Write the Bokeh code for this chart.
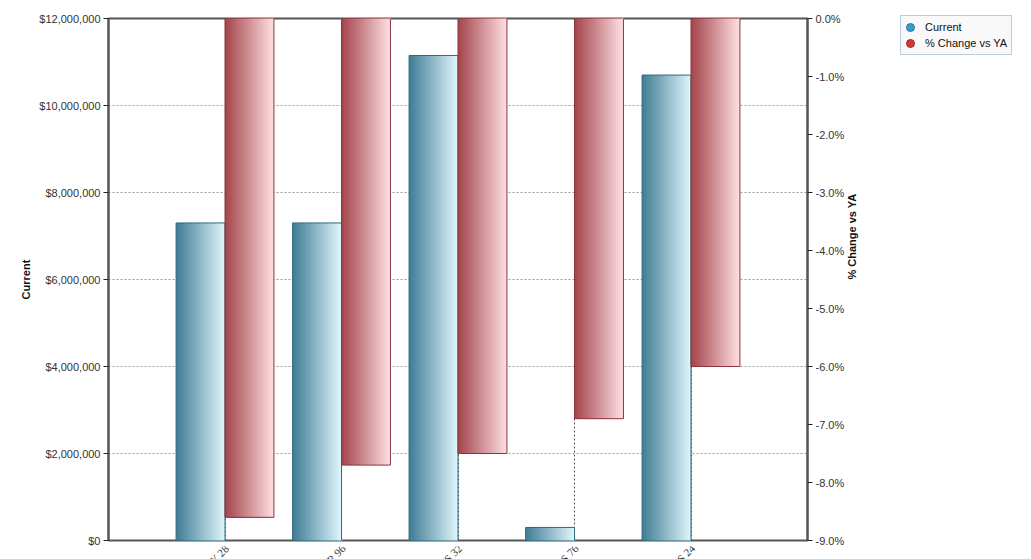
import numpy as np
from bokeh.plotting import figure
from bokeh.layouts import row, column
from bokeh.models import (Range1d, LinearAxis, SingleIntervalTicker, FixedTicker,
                          NumeralTickFormatter, PrintfTickFormatter, ColumnDataSource,
                          LabelSet, Legend, LegendItem)
from bokeh.embed import file_html
from bokeh.resources import INLINE

# ---- data ----
categories = ["CATEGORY 28", "SUPPLIER 96", "PRODUCTS 32", "BRANDS 76", "ITEMS 24"]
current = [7300000, 7300000, 11150000, 300000, 10700000]
pct_change = [-8.6, -7.7, -7.5, -6.9, -6.0]

FONT = "Liberation Sans"
Y_MAX = 12000000
P_MIN = -9.0

fig = figure(width=870, height=546, output_backend="svg", toolbar_location=None,
             x_range=Range1d(0, 6), y_range=Range1d(0, Y_MAX),
             min_border_left=108, min_border_right=63, min_border_top=18, min_border_bottom=6)
fig.extra_y_ranges = {"pct": Range1d(P_MIN, 0)}

fig.outline_line_color = "#555555"
fig.outline_line_width = 2
fig.background_fill_color = "white"
fig.border_fill_color = "white"

xs = np.arange(1, len(categories) + 1)
bar_w = 0.42

def gradient_bars(centers, tops, bottoms, c_dark, c_light, y_range_name="default", n=40):
    c_dark = np.array(c_dark, dtype=float)
    c_light = np.array(c_light, dtype=float)
    sx, sw, st, sb, sc = [], [], [], [], []
    for cx, t, b in zip(centers, tops, bottoms):
        left = cx - bar_w / 2
        right = cx + bar_w / 2
        for i in range(n):
            f = i / (n - 1)
            col = c_dark + (c_light - c_dark) * f
            l_i = left + i * bar_w / n
            sx.append((l_i + right) / 2)
            sw.append(right - l_i)
            st.append(t)
            sb.append(b)
            sc.append("#%02x%02x%02x" % tuple(int(round(v)) for v in col))
    src = ColumnDataSource(dict(x=sx, w=sw, top=st, bottom=sb, color=sc))
    fig.vbar(x="x", top="top", bottom="bottom", width="w", source=src,
             fill_color="color", line_color=None, y_range_name=y_range_name)

blue_x = xs - bar_w / 2
red_x = xs + bar_w / 2

gradient_bars(blue_x, current, [0] * len(current), (66, 126, 150), (222, 244, 250))
fig.vbar(x=blue_x, top=current, bottom=0, width=bar_w, fill_color=None,
         line_color="#2f6a80", line_width=1)

gradient_bars(red_x, [0] * len(pct_change), pct_change, (164, 70, 76), (253, 222, 226), y_range_name="pct")
fig.vbar(x=red_x, top=0, bottom=pct_change, width=bar_w, fill_color=None,
         line_color="#8a343c", line_width=1, y_range_name="pct")

# ---- axes ----
ya = fig.yaxis[0]
ya.ticker = SingleIntervalTicker(interval=2000000)
ya.formatter = NumeralTickFormatter(format="$0,0")
ya.axis_label = "Current"

ra = LinearAxis(y_range_name="pct", ticker=SingleIntervalTicker(interval=1),
                formatter=PrintfTickFormatter(format="%.1f%%"), axis_label="% Change vs YA")
fig.add_layout(ra, "right")

for ax in (ya, ra):
    ax.axis_line_color = "#555555"
    ax.axis_line_width = 2
    ax.major_tick_line_color = "#222222"
    ax.major_tick_out = 5
    ax.major_tick_in = 0
    ax.minor_tick_line_color = None
    ax.major_label_text_font = FONT
    ax.major_label_text_font_size = "11px"
    ax.major_label_text_color = "#333333"
    ax.major_label_standoff = 3
    ax.axis_label_text_font = FONT
    ax.axis_label_text_font_size = "11px"
    ax.axis_label_text_font_style = "bold"
    ax.axis_label_text_color = "#111111"
ya.axis_label_standoff = 4
ra.axis_label_standoff = 5
ra.axis_label_orientation = np.pi / 2

fig.xaxis.visible = False

fig.xgrid.ticker = FixedTicker(ticks=list(xs))
fig.xgrid.grid_line_color = "#555555"
fig.xgrid.grid_line_dash = "2 2"
fig.xgrid.grid_line_width = 1

fig.ygrid.ticker = SingleIntervalTicker(interval=2000000)
fig.ygrid.grid_line_color = "#9a9a9a"
fig.ygrid.grid_line_dash = "2 2"
fig.ygrid.grid_line_width = 1

# ---- category label strip below the chart (labels cut off as in the reference) ----
strip = figure(width=870, height=13, output_backend="svg", toolbar_location=None,
               x_range=fig.x_range, y_range=Range1d(0, 13),
               min_border_left=108, min_border_right=63, min_border_top=0, min_border_bottom=0)
strip.axis.visible = False
strip.grid.visible = False
strip.outline_line_color = None
strip.background_fill_color = "white"
strip.border_fill_color = "white"
lab_src = ColumnDataSource(dict(x=list(xs), y=[13] * len(xs), text=categories))
strip.add_layout(LabelSet(x="x", y="y", text="text", source=lab_src, angle=np.pi / 4,
                          x_offset=2, y_offset=0, text_align="right", text_baseline="middle",
                          text_font=FONT, text_font_size="11px", text_color="#333333"))

# ---- legend (in a narrow companion figure on the right) ----
lf = figure(width=161, height=559, output_backend="svg", toolbar_location=None,
            x_range=Range1d(0, 1), y_range=Range1d(0, 1),
            min_border=0, min_border_left=0, min_border_right=0,
            min_border_top=0, min_border_bottom=0)
lf.axis.visible = False
lf.grid.visible = False
lf.outline_line_color = None
lf.background_fill_color = "white"
lf.border_fill_color = "white"
r1 = lf.ellipse(x=[-10], y=[-10], width=10, height=10, width_units="screen", height_units="screen",
                fill_color="#3a9ccc", line_color="#2a7aa0")
r2 = lf.ellipse(x=[-10], y=[-10], width=10, height=10, width_units="screen", height_units="screen",
                fill_color="#cc3a3a", line_color="#a02a2a")
legend = Legend(items=[LegendItem(label="Current", renderers=[r1]),
                       LegendItem(label="% Change vs YA", renderers=[r2])],
                location=(30, 504))
legend.label_text_font = FONT
legend.label_text_font_size = "11px"
legend.label_text_color = "#111111"
legend.label_height = 14
legend.glyph_height = 12
legend.glyph_width = 10
legend.label_standoff = 10
legend.padding = 4
legend.spacing = 2
legend.margin = 0
legend.border_line_color = "#7f9db9"
legend.border_line_width = 1
legend.background_fill_color = "#f9f9f9"
legend.background_fill_alpha = 1
lf.add_layout(legend, "center")

p = row(column(fig, strip, spacing=0), lf, spacing=0)

open("out.html", "w").write(file_html(p, INLINE))
